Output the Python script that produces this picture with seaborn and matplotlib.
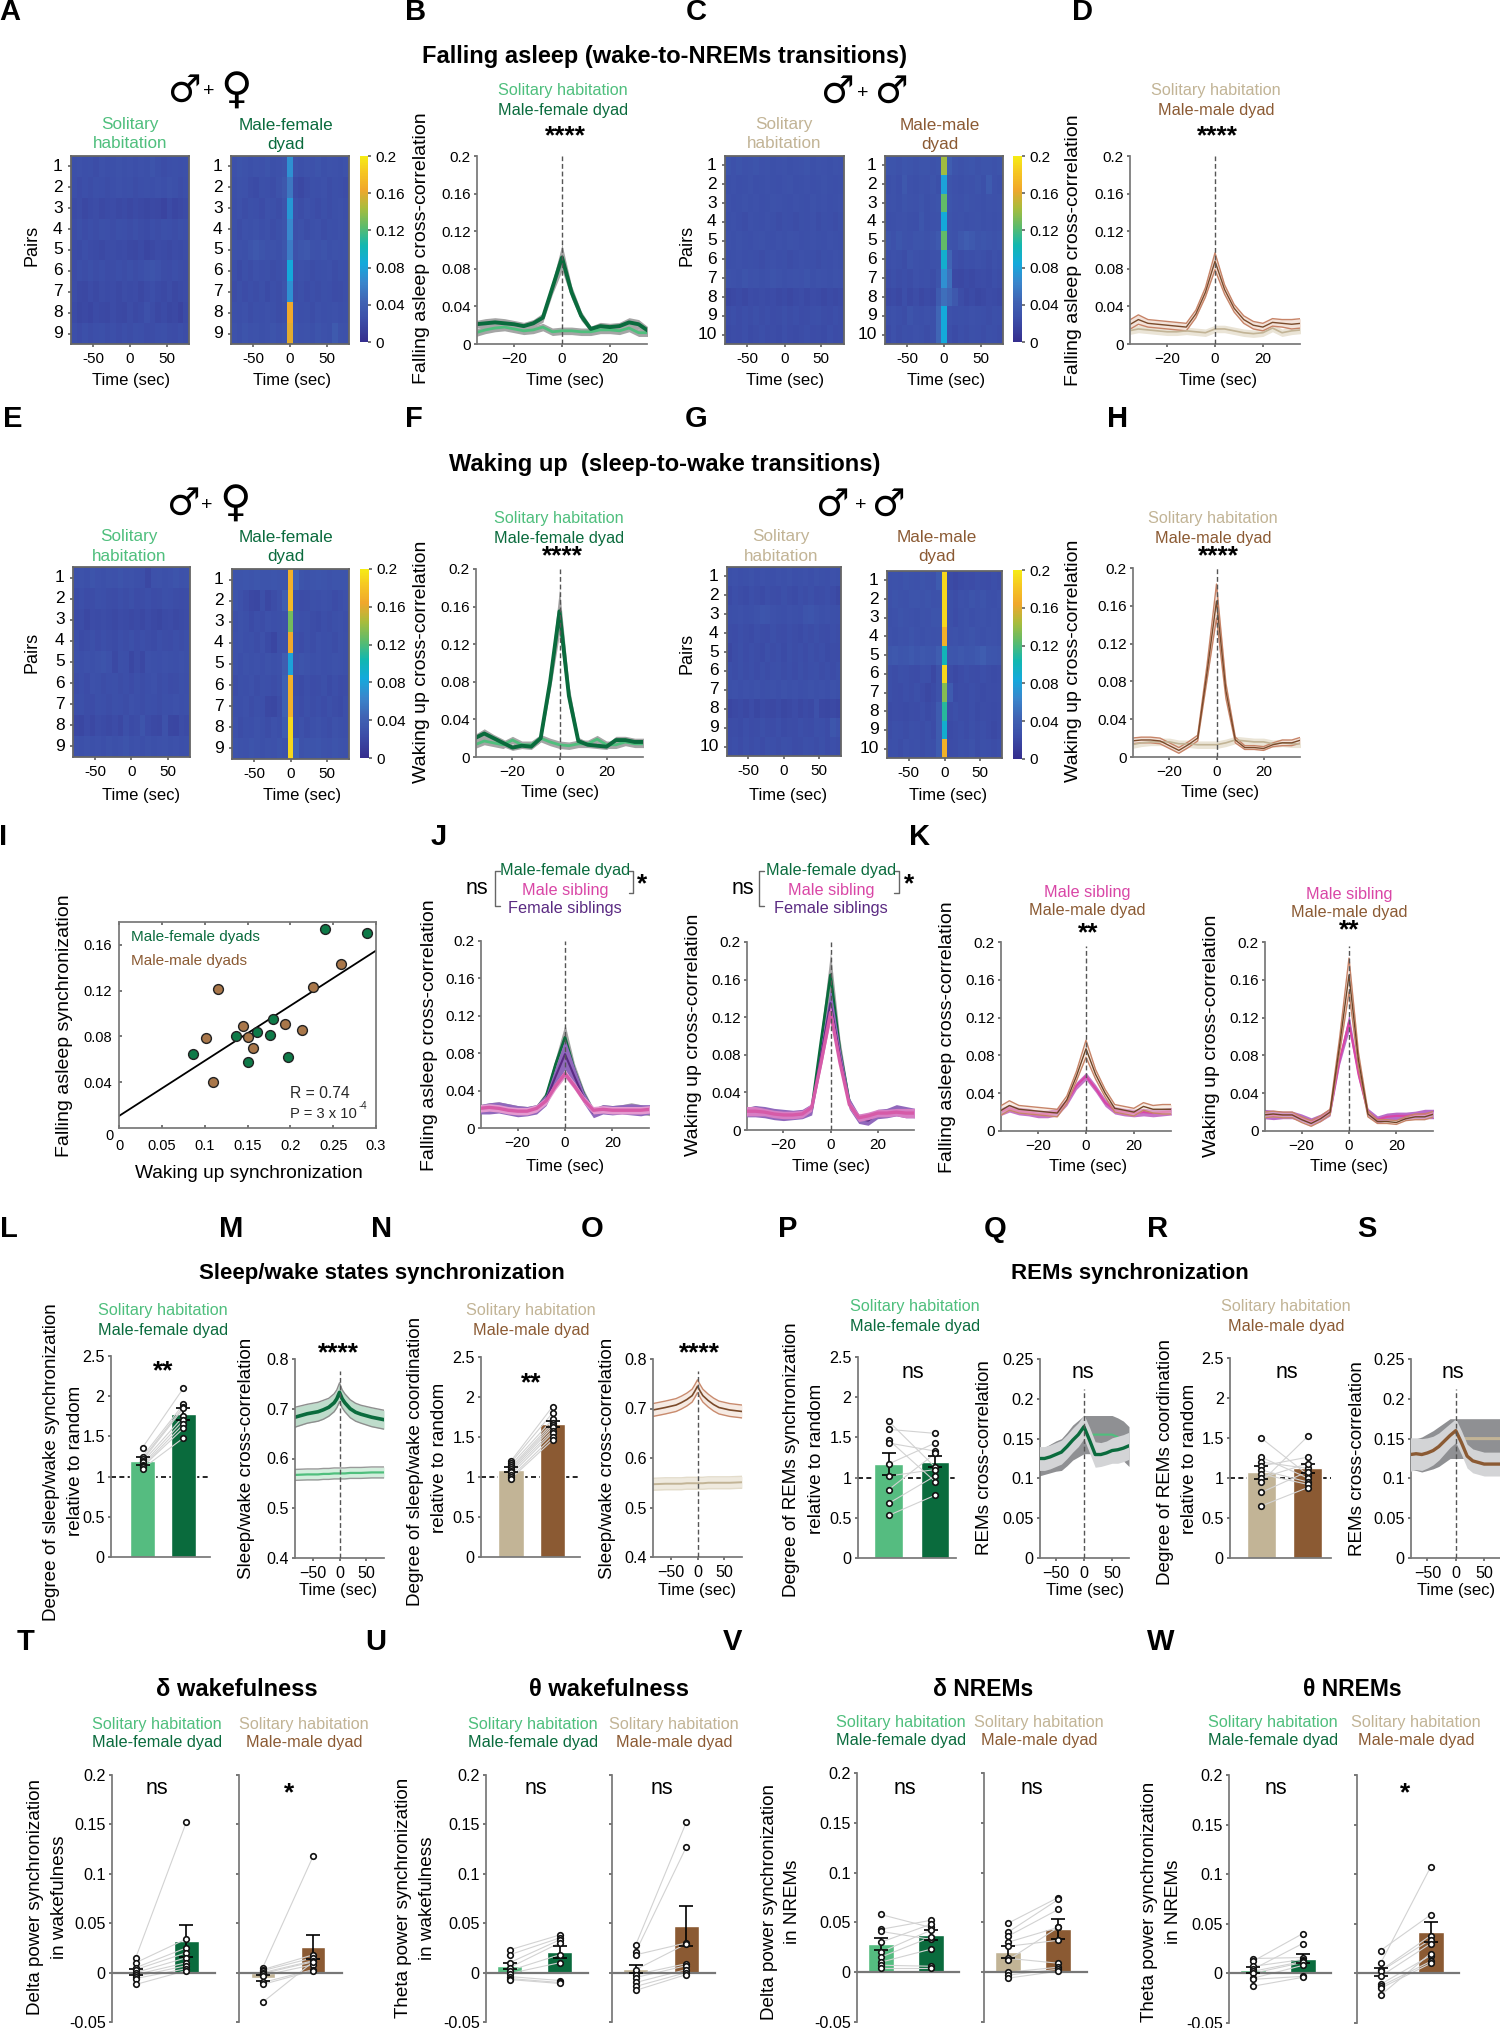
import numpy as np
import pandas as pd
import matplotlib.pyplot as plt
import seaborn as sns
from matplotlib.colors import LinearSegmentedColormap
from matplotlib.lines import Line2D

W, H = 1500, 2028

LG, DG, TAN, BR, MG, PU = "#4FBF7D", "#0A6B3D", "#C2B496", "#8B5A33", "#D946A6", "#5A2A82"

# heatmaps, values in 0.001 units, 21 time bins
map_A1 = [
    [26,27,25,26,24,27,25,26,28,26,27,25,27,26,29,26,24,25,26,25,26],
    [25,23,25,24,26,25,24,25,27,25,26,24,25,26,25,27,25,28,26,24,25],
    [22,24,20,22,24,21,22,23,21,22,20,22,21,19,21,20,17,22,18,21,22],
    [24,26,23,25,24,26,25,24,26,25,24,26,24,22,25,24,26,25,24,26,25],
    [23,22,25,23,22,21,23,24,22,23,21,20,22,18,21,23,22,21,23,22,24],
    [23,25,24,26,24,25,23,24,25,24,26,24,25,28,29,27,24,23,25,24,23],
    [24,21,20,23,21,24,22,23,21,24,22,23,20,23,25,22,21,24,20,22,23],
    [22,19,21,18,22,21,20,23,21,20,24,21,22,27,24,20,22,19,21,17,22],
    [25,23,26,24,25,26,24,25,23,25,24,26,25,23,24,25,26,24,23,25,24],
]
map_A2 = [
    [27,29,28,26,28,27,29,26,27,30,70,28,26,28,27,29,26,28,27,26,28],
    [26,28,27,24,22,26,25,24,28,33,55,22,20,24,26,25,27,24,26,25,24],
    [25,27,24,26,25,23,27,26,24,30,75,26,24,27,25,23,26,24,26,27,25],
    [26,24,27,26,28,25,27,24,26,30,65,25,27,24,26,27,24,26,25,27,26],
    [28,27,26,29,33,30,27,28,26,32,58,28,32,33,28,27,29,26,28,27,28],
    [25,22,26,24,27,25,26,24,25,28,85,25,27,26,24,25,26,27,24,26,25],
    [24,26,23,25,24,26,22,25,24,30,70,24,26,23,25,24,26,25,23,24,25],
    [26,25,27,24,26,25,27,26,24,26,165,27,25,26,24,27,25,26,27,25,26],
    [28,26,29,27,28,26,27,29,27,30,160,29,27,28,26,29,27,26,35,28,27],
]
map_C1 = [
    [29,27,30,27,28,29,27,28,26,27,28,26,27,28,29,26,28,27,26,28,27],
    [26,27,25,26,28,25,26,27,26,25,27,28,25,26,27,25,26,28,26,25,26],
    [27,25,26,28,26,27,25,26,28,27,26,25,27,26,25,28,26,27,25,26,27],
    [26,27,25,24,27,26,25,27,26,24,26,25,24,26,25,27,24,26,25,24,26],
    [27,26,28,26,25,27,28,26,25,27,26,28,27,25,26,27,26,25,27,26,25],
    [25,26,27,25,26,25,24,26,27,25,26,24,25,27,26,25,24,26,25,27,26],
    [28,27,26,29,27,28,26,27,29,28,26,27,28,27,29,26,28,27,26,28,27],
    [19,21,22,20,23,22,24,22,23,21,22,20,22,24,21,23,22,20,22,21,22],
    [24,25,23,25,24,26,24,25,23,24,26,24,25,23,24,25,26,24,23,25,24],
    [22,24,23,25,22,24,25,23,24,22,25,23,22,24,25,23,24,22,25,23,24],
]
map_C2 = [
    [29,30,28,31,29,28,30,29,28,30,142,38,30,28,29,31,28,30,29,28,29],
    [26,28,25,33,27,26,28,27,29,26,80,30,27,26,28,27,30,26,36,27,26],
    [27,28,26,29,28,27,29,26,28,29,125,31,28,27,29,28,27,26,28,27,28],
    [25,26,27,28,26,25,32,26,27,28,85,29,27,28,26,27,28,26,27,26,27],
    [29,27,32,28,27,30,29,28,30,34,125,29,28,33,38,34,30,32,30,28,29],
    [25,27,26,24,30,27,26,25,27,28,90,44,25,24,26,25,27,26,24,27,25],
    [24,26,24,25,24,27,25,26,24,30,70,50,21,20,22,21,23,24,22,25,24],
    [21,22,20,25,21,24,20,22,21,36,50,44,33,24,20,22,19,21,23,22,21],
    [25,27,25,24,30,26,25,27,26,45,85,27,25,26,25,27,26,25,24,26,25],
    [23,27,24,26,25,27,26,24,26,45,85,25,22,25,24,26,25,24,26,25,24],
]
map_E1 = [
    [27,28,26,29,27,26,28,27,29,27,28,26,25,20,27,28,26,27,29,27,28],
    [24,25,23,24,26,25,24,23,25,24,26,23,24,25,23,24,26,25,24,23,24],
    [23,24,20,23,22,24,22,21,23,22,21,22,20,23,21,19,22,23,21,22,23],
    [25,22,24,26,23,25,24,22,25,24,26,23,25,24,22,25,24,23,25,24,25],
    [26,25,27,26,28,30,27,21,26,25,19,24,20,27,26,25,27,26,25,27,26],
    [24,25,23,27,26,24,25,26,24,25,23,26,24,25,27,24,25,23,24,26,25],
    [25,26,24,23,26,25,24,26,25,24,27,25,24,26,25,24,26,25,27,25,26],
    [20,19,23,20,24,22,21,23,20,26,22,24,30,23,21,20,28,19,18,24,22],
    [27,26,28,26,27,25,28,26,27,29,26,27,25,28,26,27,28,26,27,25,26],
]
map_E2 = [
    [30,29,31,30,32,29,30,31,29,30,170,42,30,28,29,31,30,28,29,30,29],
    [29,27,24,20,19,26,20,24,27,38,175,25,23,24,26,25,27,26,23,25,27],
    [26,28,26,22,25,24,27,25,26,28,130,27,25,26,24,22,25,24,26,27,25],
    [27,28,25,26,24,27,22,18,26,27,165,25,23,26,24,27,25,26,24,27,26],
    [27,25,28,26,27,25,28,26,27,38,80,27,29,28,26,27,25,26,28,27,26],
    [24,26,25,27,24,26,25,24,26,40,170,24,22,25,23,24,26,22,25,23,24],
    [26,25,27,24,26,25,20,19,24,40,170,25,23,26,24,25,23,26,24,22,25],
    [27,24,26,25,28,26,24,27,25,36,190,25,27,24,26,28,25,24,28,26,25],
    [29,28,27,29,28,26,28,27,29,28,190,42,28,30,29,31,28,27,29,28,27],
]
map_G1 = [
    [26,27,25,26,28,25,27,26,25,27,26,28,25,26,27,25,28,26,25,27,26],
    [22,25,24,22,25,24,22,25,24,23,26,24,22,25,24,26,23,24,25,23,20],
    [25,26,27,25,26,28,31,30,27,26,25,27,26,25,30,31,28,26,27,26,25],
    [24,23,25,24,22,25,24,23,26,24,23,25,24,22,25,24,26,24,23,25,24],
    [20,24,26,23,25,24,22,26,24,25,22,26,24,25,23,26,24,25,22,24,23],
    [25,24,26,24,25,23,26,24,25,26,24,25,23,26,24,25,26,24,25,23,25],
    [26,27,25,27,26,28,25,26,27,25,28,26,27,25,26,28,26,27,25,28,26],
    [18,21,22,20,23,19,22,21,20,22,19,21,23,20,22,21,27,20,19,21,18],
    [23,24,22,25,23,24,26,24,23,25,22,24,23,25,24,23,26,25,23,32,27],
    [24,25,23,26,24,25,23,26,25,24,26,25,23,24,26,25,24,26,23,25,24],
]
map_G2 = [
    [27,28,27,29,28,27,29,28,27,36,190,22,20,22,24,23,25,24,23,25,24],
    [27,29,28,27,29,30,28,29,27,28,190,26,24,27,26,29,27,29,26,25,27],
    [26,27,29,28,27,26,28,27,29,30,190,26,23,26,28,25,27,28,26,27,26],
    [27,26,28,27,29,27,26,28,27,28,170,27,28,26,28,29,27,26,28,27,26],
    [32,33,31,32,34,31,33,32,31,38,100,32,31,33,31,32,34,38,32,31,30],
    [25,24,26,25,24,23,26,25,20,28,190,24,21,23,25,24,23,25,24,22,23],
    [25,24,23,25,24,26,23,20,22,28,135,36,22,24,23,25,24,22,24,23,24],
    [22,24,23,22,24,23,25,22,24,36,110,24,26,24,23,25,22,24,23,22,23],
    [24,26,25,24,26,25,24,26,23,36,90,22,24,25,23,26,24,25,23,21,23],
    [25,26,24,27,25,26,24,26,25,36,170,23,24,26,25,28,24,26,25,24,25],
]

# cross-correlation time courses
lag = [-36,-32,-28,-24,-20,-16,-12,-8,-4,0,4,8,12,16,20,24,28,32,36]
sem_narrow = [.004,.005,.005,.005,.004,.004,.004,.005,.007,.014,.007,.005,.003,.004,.004,.004,.005,.005,.004]
sem_sharp = [.004,.005,.004,.004,.003,.003,.003,.004,.010,.024,.012,.004,.003,.003,.003,.004,.004,.004,.004]
sem_flat = [.004,.004,.004,.004,.004,.004,.004,.004,.004,.004,.004,.004,.004,.004,.004,.004,.004,.004,.004]
sem_thin = [.005,.005,.004,.004,.004,.004,.004,.004,.005,.009,.005,.004,.004,.004,.004,.004,.004,.005,.005]
sem_tall = [.003,.003,.003,.003,.003,.003,.003,.003,.008,.018,.008,.003,.002,.002,.002,.002,.003,.003,.003]
sem_purple = [.005,.006,.006,.006,.006,.005,.005,.006,.010,.016,.010,.006,.005,.005,.005,.005,.006,.006,.005]

B_dyad = [.021,.022,.023,.022,.021,.019,.022,.028,.060,.092,.055,.030,.016,.019,.018,.019,.023,.021,.014]
B_sol = [.012,.015,.017,.018,.016,.014,.015,.018,.013,.014,.014,.013,.013,.015,.015,.014,.017,.012,.012]
D_dyad = [.020,.026,.022,.021,.020,.019,.018,.032,.055,.088,.058,.038,.026,.020,.018,.023,.022,.021,.022]
D_sol = [.014,.016,.015,.014,.013,.013,.014,.013,.012,.016,.016,.014,.012,.011,.012,.017,.012,.014,.015]
F_dyad = [.020,.025,.020,.015,.010,.012,.011,.020,.080,.155,.065,.017,.013,.012,.011,.018,.018,.016,.016]
F_sol = [.013,.017,.015,.013,.018,.013,.013,.020,.016,.013,.012,.014,.014,.019,.013,.013,.016,.014,.014]
H_dyad = [.017,.018,.018,.017,.012,.007,.013,.020,.090,.165,.070,.018,.010,.010,.009,.013,.015,.015,.018]
H_sol = [.013,.015,.016,.016,.016,.014,.014,.013,.013,.013,.015,.018,.017,.016,.016,.014,.015,.014,.014]
J1_dyad = [.021,.022,.023,.021,.020,.019,.021,.034,.068,.097,.062,.036,.018,.021,.020,.021,.022,.020,.017]
J1_fem = [.020,.021,.022,.020,.018,.018,.020,.030,.055,.079,.055,.032,.016,.020,.019,.020,.020,.019,.020]
J1_male = [.021,.022,.021,.019,.018,.018,.021,.029,.045,.058,.045,.030,.019,.020,.019,.019,.019,.019,.020]
J2_dyad = [.019,.021,.019,.016,.016,.015,.016,.022,.095,.165,.085,.030,.012,.012,.017,.019,.020,.018,.017]
J2_fem = [.019,.020,.019,.017,.016,.016,.017,.022,.080,.135,.078,.028,.012,.010,.017,.018,.021,.019,.018]
J2_male = [.020,.020,.019,.017,.016,.016,.017,.024,.072,.125,.072,.027,.013,.015,.018,.018,.019,.018,.018]
K1_dyad = [.021,.027,.023,.022,.021,.020,.019,.033,.058,.087,.060,.040,.024,.022,.020,.026,.023,.023,.023]
K1_male = [.020,.024,.021,.020,.018,.018,.020,.031,.048,.058,.045,.030,.022,.020,.019,.020,.019,.020,.021]
K2_dyad = [.017,.018,.017,.017,.012,.008,.013,.020,.090,.165,.075,.018,.010,.010,.009,.013,.015,.015,.018]
K2_male = [.018,.017,.017,.017,.014,.010,.014,.020,.075,.115,.060,.020,.012,.015,.016,.016,.017,.018,.018]

t_long = [-83,-60,-40,-30,-20,-10,-5,0,5,10,20,30,40,60,83]
M_dyad = [.683,.690,.694,.698,.703,.712,.720,.733,.720,.712,.700,.693,.689,.683,.678]
M_dyad_sem = [.020,.019,.019,.019,.018,.018,.018,.019,.018,.018,.018,.018,.018,.019,.019]
M_sol = [.567,.568,.568,.569,.569,.570,.570,.570,.570,.570,.571,.571,.571,.572,.572]
M_sol_sem = [.011,.011,.011,.011,.011,.011,.011,.011,.011,.011,.011,.011,.011,.011,.011]
O_dyad = [.697,.702,.707,.712,.718,.726,.735,.745,.735,.726,.716,.708,.702,.697,.694]
O_dyad_sem = [.013,.013,.013,.013,.013,.013,.013,.013,.013,.013,.013,.013,.013,.013,.013]
O_sol = [.547,.548,.548,.548,.549,.549,.549,.549,.549,.549,.550,.550,.550,.550,.551]
O_sol_sem = [.012,.012,.012,.012,.012,.012,.012,.012,.012,.012,.012,.012,.012,.012,.012]

t_rem = [-80,-70,-60,-50,-40,-30,-20,-10,0,10,20,30,40,50,60,70,80]
Q_dyad = [.125,.125,.127,.130,.133,.140,.148,.155,.165,.148,.130,.130,.132,.135,.136,.138,.141]
Q_dyad_sem = [.015,.015,.015,.015,.015,.015,.015,.015,.015,.016,.016,.015,.015,.016,.017,.017,.017]
Q_sol = [.120,.122,.125,.128,.130,.137,.145,.150,.155,.155,.155,.155,.155,.155,.152,.147,.140]
Q_sol_sem = [.017,.017,.018,.019,.020,.021,.022,.023,.024,.024,.024,.024,.024,.024,.024,.025,.025]
S_dyad = [.130,.131,.130,.132,.135,.140,.147,.154,.160,.145,.128,.122,.120,.118,.118,.118,.118]
S_dyad_sem = [.021,.020,.020,.019,.018,.017,.016,.015,.015,.015,.015,.015,.015,.015,.015,.015,.015]
S_sol = [.130,.130,.130,.133,.136,.140,.145,.150,.150,.150,.150,.150,.150,.150,.150,.150,.150]
S_sol_sem = [.020,.020,.022,.023,.024,.025,.025,.025,.025,.025,.025,.025,.025,.025,.025,.025,.025]

# correlation panel
mf_x = [.086,.136,.151,.161,.176,.180,.197,.241,.290]
mf_y = [.0644,.080,.0577,.0836,.0813,.095,.062,.1736,.170]
mm_x = [.102,.110,.115,.145,.151,.156,.194,.214,.227,.259]
mm_y = [.0784,.040,.1215,.0889,.0792,.070,.0906,.0854,.123,.1436]
fit_x = [0,.3]
fit_y = [.0105,.155]

# bar panels: solitary points, dyad points, means, sems
L_sol = [1.36,1.25,1.22,1.20,1.18,1.15,1.13,1.12,1.10]
L_dyad = [2.10,1.90,1.87,1.85,1.75,1.70,1.65,1.60,1.48]
N_sol = [1.20,1.18,1.15,1.12,1.10,1.08,1.06,1.03,1.00,.98]
N_dyad = [1.88,1.80,1.72,1.68,1.65,1.62,1.58,1.55,1.50,1.46]
P_sol = [1.70,1.60,1.47,1.43,1.17,1.02,.85,.68,.53]
P_dyad = [1.13,1.55,.95,1.33,1.43,1.10,1.30,1.02,.78]
R_sol = [1.50,1.26,1.20,1.15,1.10,1.05,1.00,.95,.82,.65]
R_dyad = [1.04,1.00,1.12,1.26,.95,.92,1.18,1.52,1.08,.88]

T1_sol = [.015,.010,.005,.003,.000,-.002,-.004,-.006,-.012]
T1_dyad = [.152,.034,.025,.020,.015,.010,.007,.004,.002]
T2_sol = [.005,.003,.002,.000,-.001,-.003,-.010,-.012,-.030]
T2_dyad = [.118,.018,.015,.012,.011,.008,.003,.002,.011]
U1_sol = [.023,.018,.010,.005,.002,-.001,-.004,-.006,-.007]
U1_dyad = [.038,.035,.033,.030,.018,.010,-.008,-.010,-.011]
U2_sol = [.028,.021,.018,.003,-.002,-.005,-.010,-.014,-.018]
U2_dyad = [.152,.127,.030,.029,.009,.007,.003,.000,-.002]
V1_sol = [.058,.043,.041,.030,.020,.015,.010,.007,.004]
V1_dyad = [.045,.052,.033,.048,.042,.035,.023,.006,.004]
V2_sol = [.049,.040,.036,.030,.026,.014,.012,.000,-.003,-.006]
V2_dyad = [.075,.073,.063,.045,.032,.009,.045,.005,.003,.001]
W1_sol = [.015,.012,.007,.004,.002,.000,-.005,-.006,-.013]
W1_dyad = [.016,.040,.014,.030,.012,.011,.008,-.003,-.004]
W2_sol = [.023,.010,.003,.002,-.003,-.011,-.013,-.015,-.022]
W2_dyad = [.059,.107,.038,.034,.030,.018,.012,.010,.020]

sns.set_theme(style="ticks")
plt.rcParams["font.family"] = ["Liberation Sans", "DejaVu Sans"]
plt.rcParams["axes.edgecolor"] = "#777777"
plt.rcParams["xtick.color"] = "#666666"
plt.rcParams["ytick.color"] = "#666666"
plt.rcParams["xtick.labelcolor"] = "black"
plt.rcParams["ytick.labelcolor"] = "black"
plt.rcParams["xtick.labelsize"] = 11
plt.rcParams["ytick.labelsize"] = 11
plt.rcParams["xtick.major.size"] = 2.5
plt.rcParams["ytick.major.size"] = 2.5
plt.rcParams["xtick.major.pad"] = 3
plt.rcParams["ytick.major.pad"] = 2

parula = LinearSegmentedColormap.from_list("parula_print", [
    (0, "#352E8E"), (.12, "#3C4EA8"), (.22, "#4064B4"), (.32, "#3A86CC"), (.42, "#14A9DC"),
    (.52, "#12B7B0"), (.62, "#5CBB6C"), (.72, "#A8BC3C"), (.82, "#F0A72C"), (.92, "#F6C822"), (1, "#F6EC14")])

fig = plt.figure(figsize=(W / 100, H / 100), dpi=100)


def ax_px(l, t, r, b):
    return fig.add_axes([l / W, 1 - b / H, (r - l) / W, (b - t) / H])


def txt(x, y, s, color="black", size=11.7, rot=0, weight="normal", **kw):
    fig.text(x / W, 1 - y / H, s, color=color, fontsize=size, rotation=rot, fontweight=weight,
             ha="center", va="center", **kw)


def ylab(x, y, s, size=14):
    txt(x, y, s, size=size, rot=90)


def fig_line(xs, ys):
    fig.add_artist(Line2D([v / W for v in xs], [1 - v / H for v in ys], color="#666666", lw=1))


def heat(box, rows, cax=None):
    ax = ax_px(*box)
    labels = [str(i + 1) for i in range(len(rows))]
    sns.heatmap(np.array(rows) / 1000, vmin=0, vmax=.2, cmap=parula, ax=ax, cbar=cax is not None,
                cbar_ax=cax, xticklabels=False, yticklabels=labels)
    ax.set_xticks([3.95, 10.5, 17.0])
    ax.set_xticklabels(["-50", "0", "50"], rotation=0)
    ax.tick_params(axis="y", rotation=0, labelsize=12.5, length=2, pad=4)
    for sp in ax.spines.values():
        sp.set_visible(True)
        sp.set_color("#666666")
        sp.set_linewidth(1.3)
    if cax is not None:
        cax.set_yticks([0, .04, .08, .12, .16, .2])
        cax.set_yticklabels(["0", "0.04", "0.08", "0.12", "0.16", "0.2"])
        cax.tick_params(length=2, pad=3)
    return ax


def clean(ax):
    sns.despine(ax=ax)
    ax.patch.set_alpha(0)


def trace(ax, x, y, sem, line, band, lw=2.5, edge=None, alpha=1, z=2):
    y, sem = np.array(y), np.array(sem)
    ax.fill_between(x, y - sem, y + sem, color=band, alpha=alpha, lw=0, zorder=z)
    if edge:
        sns.lineplot(x=x, y=y - sem, color=edge, lw=1, ax=ax, zorder=z + .1)
        sns.lineplot(x=x, y=y + sem, color=edge, lw=1, ax=ax, zorder=z + .1)
    sns.lineplot(x=x, y=y, color=line, lw=lw, ax=ax, zorder=z + .2)


def xcorr_ax(box, ylim=(0, .2), yt=(0, .04, .08, .12, .16, .2), xlim=(-35.5, 35.5), xt=(-20, 0, 20), tsize=11, vtop=1):
    ax = ax_px(*box)
    ax.set_xlim(*xlim)
    ax.set_ylim(*ylim)
    ax.set_xticks(list(xt))
    ax.set_yticks(list(yt))
    ax.set_yticklabels([f"{v:g}" for v in yt])
    ax.tick_params(labelsize=tsize)
    ax.axvline(0, ymax=vtop, color="#555555", lw=1, ls=(0, (3.5, 2)), zorder=5)
    clean(ax)
    return ax


def pair_bars(box, sol, dyad, means, sems, colors, xlim, ylim, yt, width, ref=None, labels=True, zero_axis=False):
    ax = ax_px(*box)
    df = pd.DataFrame({"group": ["sol", "dyad"], "val": means})
    if ref is not None:
        ax.axhline(ref, color="black", lw=1.2, ls=(0, (3, 2)), zorder=0)
    sns.barplot(data=df, x="group", y="val", hue="group", palette=colors, width=width, saturation=1,
                legend=False, ax=ax, zorder=1)
    for a, b in zip(sol, dyad):
        ax.plot([0, 1], [a, b], color="#D2D2D2", lw=.8, zorder=2)
    ax.errorbar([0, 1], means, yerr=sems, fmt="none", ecolor="black", elinewidth=1.2, capsize=5, capthick=1.2, zorder=3)
    sns.scatterplot(x=[0] * len(sol), y=sol, s=16, facecolor="white", edgecolor="#111111", linewidth=1.2, ax=ax, zorder=4)
    sns.scatterplot(x=[1] * len(dyad), y=dyad, s=16, facecolor="white", edgecolor="#111111", linewidth=1.2, ax=ax, zorder=4)
    ax.set_xlim(*xlim)
    ax.set_ylim(*ylim)
    ax.set_xticks([])
    ax.set_yticks(list(yt))
    ax.set_yticklabels([f"{v:g}" for v in yt] if labels else [])
    ax.tick_params(labelsize=11.6)
    ax.set_xlabel("")
    ax.set_ylabel("")
    clean(ax)
    if zero_axis:
        ax.spines["bottom"].set_position(("data", 0))
        ax.spines["bottom"].set_linewidth(1.6)
    return ax


# heatmap rows (A, C, E, G)
cbA = ax_px(360, 156, 368, 342)
heat((71, 156, 189, 344), map_A1)
heat((231, 156, 349, 344), map_A2, cbA)
cbC = ax_px(1013, 156, 1022, 342)
heat((725, 156, 844, 344), map_C1)
heat((885, 156, 1003, 344), map_C2, cbC)
cbE = ax_px(360, 569, 369, 758)
heat((73, 567, 190, 757), map_E1)
heat((232, 569, 349, 759), map_E2, cbE)
cbG = ax_px(1013, 570, 1022, 759)
heat((727, 567, 841, 756), map_G1)
heat((887, 571, 1002, 758), map_G2, cbG)

# B, D, F, H
ax = xcorr_ax((477, 156, 647, 344))
trace(ax, lag, B_sol, sem_flat, LG, "#A5A5A5", 2)
trace(ax, lag, B_dyad, sem_narrow, DG, "#A5A5A5", 2.8)
ax = xcorr_ax((1130, 156, 1300, 344))
trace(ax, lag, D_sol, sem_flat, TAN, "#EAE4D6", 1.2)
trace(ax, lag, D_dyad, sem_thin, "#7A4A2A", "#F3E3DA", 1, edge="#C78468")
ax = xcorr_ax((476, 569, 643, 757))
trace(ax, lag, F_sol, sem_flat, LG, "#A5A5A5", 2)
trace(ax, lag, F_dyad, sem_sharp, DG, "#A5A5A5", 2.8)
ax = xcorr_ax((1133, 568, 1300, 757))
trace(ax, lag, H_sol, sem_flat, TAN, "#EAE4D6", 1.2)
trace(ax, lag, H_dyad, sem_tall, "#7A4A2A", "#F3E3DA", 1, edge="#C78468")

# I
ax = ax_px(119, 922, 376, 1128)
sns.lineplot(x=fit_x, y=fit_y, color="black", lw=1.3, ax=ax)
sns.scatterplot(x=mm_x, y=mm_y, color="#A9774A", edgecolor="#222222", s=50, linewidth=1, ax=ax, zorder=3)
sns.scatterplot(x=mf_x, y=mf_y, color="#0E7A48", edgecolor="#222222", s=50, linewidth=1, ax=ax, zorder=3)
ax.set_xlim(0, .3)
ax.set_ylim(0, .18)
ax.set_xticks([0, .05, .1, .15, .2, .25, .3])
ax.set_xticklabels(["0", "0.05", "0.1", "0.15", "0.2", "0.25", "0.3"])
ax.set_yticks([.04, .08, .12, .16])
ax.set_yticklabels(["0.04", "0.08", "0.12", "0.16"])
ax.tick_params(top=True, right=False, direction="in", pad=5)
ax.tick_params(axis="x", pad=8, labelsize=10.5)
ax.tick_params(axis="y", labelsize=10.5)
txt(109, 1136, "0", size=10.5)

# J, K
ax = xcorr_ax((481, 941, 649, 1128))
trace(ax, lag, J1_dyad, sem_narrow, DG, "#A5A5A5", 2, z=2)
trace(ax, lag, J1_fem, sem_purple, PU, "#9068BC", 1.5, z=3)
trace(ax, lag, J1_male, sem_flat, "#D65BA8", "#E49AD0", 2.4, z=4)
ax = xcorr_ax((747, 942, 914, 1130))
trace(ax, lag, J2_dyad, sem_sharp, DG, "#A5A5A5", 2, z=2)
trace(ax, lag, J2_fem, sem_purple, PU, "#9068BC", 1.5, z=3)
trace(ax, lag, J2_male, sem_thin, "#D65BA8", "#D77FC4", 2.4, z=4)
ax = xcorr_ax((1001, 942, 1171, 1131), vtop=.98)
trace(ax, lag, K1_male, sem_flat, MG, "#C673C6", 1.5, z=2)
trace(ax, lag, K1_dyad, sem_thin, "#6E4425", "#F1D9C8", 1, edge="#C78468", alpha=.45, z=3)
ax = xcorr_ax((1265, 942, 1433, 1131), vtop=.98)
trace(ax, lag, K2_male, sem_thin, MG, "#B86CC8", 1.5, z=2)
trace(ax, lag, K2_dyad, sem_tall, "#6E4425", "#F1D9C8", 1, edge="#C78468", alpha=.45, z=3)

# L-S
yt_ratio = (0, .5, 1, 1.5, 2, 2.5)
pair_bars((111, 1356, 210, 1557), L_sol, L_dyad, [1.20, 1.78], [.05, .07], ["#55BC80", DG], (-.77, 1.65), (0, 2.5), yt_ratio, .6, ref=1)
pair_bars((481, 1357, 580, 1557), N_sol, N_dyad, [1.09, 1.66], [.03, .04], [TAN, BR], (-.72, 1.66), (0, 2.5), yt_ratio, .62, ref=1)
pair_bars((858, 1357, 956, 1558), P_sol, P_dyad, [1.17, 1.20], [.14, .07], ["#55BC80", DG], (-.66, 1.45), (0, 2.5), yt_ratio, .62, ref=1)
pair_bars((1230, 1358, 1331, 1558), R_sol, R_dyad, [1.07, 1.12], [.08, .06], [TAN, BR], (-.67, 1.5), (0, 2.5), yt_ratio, .62, ref=1)

yt_state = (.4, .5, .6, .7, .8)
ax = xcorr_ax((295, 1359, 384, 1558), (.4, .8), yt_state, (-83, 83), (-50, 0, 50), 11.6, vtop=.94)
trace(ax, t_long, M_sol, M_sol_sem, LG, "#D3EEDD", 1.6, edge="#999999")
trace(ax, t_long, M_dyad, M_dyad_sem, DG, "#BEDCCB", 2.6, edge="#8E8E8E")
ax = xcorr_ax((653, 1359, 742, 1557), (.4, .8), yt_state, (-83, 83), (-50, 0, 50), 11.6, vtop=.94)
trace(ax, t_long, O_sol, O_sol_sem, TAN, "#EFEADF", 1.4, edge="#E3DCCB")
trace(ax, t_long, O_dyad, O_dyad_sem, "#7A4A2A", "#F6EBE4", 1.2, edge="#C98B6E")

yt_rem = (0, .05, .1, .15, .2, .25)
ax = xcorr_ax((1040, 1359, 1129, 1558), (0, .25), yt_rem, (-78, 80), (-50, 0, 50), 11.6, vtop=.85)
trace(ax, t_rem, Q_sol, Q_sol_sem, LG, "#8F9093", 1.5)
trace(ax, t_rem, Q_dyad, Q_dyad_sem, DG, "#D3D4D6", 2.4, z=3)
ax = xcorr_ax((1411, 1359, 1500, 1558), (0, .25), yt_rem, (-79, 78), (-50, 0, 50), 11.6, vtop=.85)
trace(ax, t_rem, S_sol, S_sol_sem, TAN, "#8F9093", 2.2)
trace(ax, t_rem, S_dyad, S_dyad_sem, BR, "#D3D4D6", 2.4, z=3)

# T-W
yt_pow = (-.05, 0, .05, .1, .15, .2)
xl5 = (-.47, 1.57)
ylim5 = (-.05, .2)
greens, browns = ["#55BC80", DG], [TAN, BR]
pair_bars((112, 1775, 215, 2022), T1_sol, T1_dyad, [.001, .032], [.003, .016], greens, xl5, ylim5, yt_pow, .5, zero_axis=True)
pair_bars((239, 1775, 342, 2022), T2_sol, T2_dyad, [-.005, .026], [.003, .012], browns, xl5, ylim5, yt_pow, .47, labels=False, zero_axis=True)
pair_bars((486, 1775, 588, 2022), U1_sol, U1_dyad, [.007, .021], [.003, .006], greens, xl5, ylim5, yt_pow, .5, zero_axis=True)
pair_bars((612, 1775, 715, 2022), U2_sol, U2_dyad, [.004, .047], [.004, .020], browns, xl5, ylim5, yt_pow, .5, labels=False, zero_axis=True)
pair_bars((857, 1773, 959, 2022), V1_sol, V1_dyad, [.028, .037], [.006, .005], greens, xl5, ylim5, yt_pow, .52, zero_axis=True)
pair_bars((984, 1773, 1087, 2022), V2_sol, V2_dyad, [.020, .043], [.006, .010], browns, xl5, ylim5, yt_pow, .52, labels=False, zero_axis=True)
pair_bars((1229, 1775, 1331, 2023), W1_sol, W1_dyad, [.003, .015], [.003, .005], greens, xl5, ylim5, yt_pow, .52, zero_axis=True)
pair_bars((1357, 1775, 1459, 2023), W2_sol, W2_dyad, [.001, .042], [.004, .010], browns, xl5, ylim5, yt_pow, .52, labels=False, zero_axis=True)

# panel letters
letters = [("A", 10, 12), ("B", 416, 12), ("C", 696, 12), ("D", 1082, 12),
           ("E", 13, 419), ("F", 414, 419), ("G", 696, 419), ("H", 1118, 419),
           ("I", 3, 837), ("J", 439, 837), ("K", 920, 837),
           ("L", 9, 1229), ("M", 231, 1229), ("N", 382, 1229), ("O", 592, 1229),
           ("P", 788, 1229), ("Q", 995, 1229), ("R", 1158, 1229), ("S", 1367, 1229),
           ("T", 26, 1642), ("U", 376, 1642), ("V", 732, 1642), ("W", 1161, 1642)]
for s, x, y in letters:
    txt(x, y, s, size=21, weight="bold")

# titles
for s, x, y, size in [("Falling asleep (wake-to-NREMs transitions)", 665, 57, 17),
                      ("Waking up  (sleep-to-wake transitions)", 665, 465, 17),
                      ("Sleep/wake states synchronization", 382, 1274, 16),
                      ("REMs synchronization", 1130, 1274, 16),
                      ("δ wakefulness", 237, 1690, 17), ("θ wakefulness", 609, 1690, 17),
                      ("δ NREMs", 983, 1690, 16.5), ("θ NREMs", 1352, 1690, 16.5)]:
    txt(x, y, s, size=size, weight="bold")

# sex symbols
sym = ["DejaVu Sans"]
for xs, y, second in [((184, 209, 236), 92, "♀"), ((183, 207, 235), 505, "♀"),
                      ((837, 863, 891), 93, "♂"), ((832, 861, 888), 506, "♂")]:
    txt(xs[0], y, "♂", size=27, family=sym)
    txt(xs[1], y, "+", size=14)
    txt(xs[2], y, second, size=27 if second == "♂" else 31, family=sym)

# heatmap headers
for x1, x2, y1, y2, c1, c2, s2 in [(130, 286, 125, 144, LG, DG, "Male-female\ndyad"),
                                   (784, 940, 125, 144, TAN, BR, "Male-male\ndyad"),
                                   (129, 286, 537, 556, LG, DG, "Male-female\ndyad"),
                                   (781, 937, 537, 556, TAN, BR, "Male-male\ndyad")]:
    txt(x1, y1, "Solitary", c1, 12.3)
    txt(x1, y2, "habitation", c1, 12.3)
    a, b = s2.split("\n")
    txt(x2, y1, a, c2, 12.3)
    txt(x2, y2, b, c2, 12.3)

# two line legends
for x, y1, y2, c1, c2, s1, s2 in [
    (563, 91, 111, LG, DG, "Solitary habitation", "Male-female dyad"),
    (1216, 91, 111, TAN, BR, "Solitary habitation", "Male-male dyad"),
    (559, 518, 538, LG, DG, "Solitary habitation", "Male-female dyad"),
    (1213, 518, 538, TAN, BR, "Solitary habitation", "Male-male dyad"),
    (1087, 893, 910, MG, BR, "Male sibling", "Male-male dyad"),
    (1349, 895, 912, MG, BR, "Male sibling", "Male-male dyad"),
    (163, 1310, 1330, LG, DG, "Solitary habitation", "Male-female dyad"),
    (531, 1310, 1330, TAN, BR, "Solitary habitation", "Male-male dyad"),
    (915, 1307, 1327, LG, DG, "Solitary habitation", "Male-female dyad"),
    (1286, 1307, 1327, TAN, BR, "Solitary habitation", "Male-male dyad"),
    (157, 1724, 1743, LG, DG, "Solitary habitation", "Male-female dyad"),
    (304, 1724, 1743, TAN, BR, "Solitary habitation", "Male-male dyad"),
    (533, 1724, 1743, LG, DG, "Solitary habitation", "Male-female dyad"),
    (674, 1724, 1743, TAN, BR, "Solitary habitation", "Male-male dyad"),
    (901, 1722, 1741, LG, DG, "Solitary habitation", "Male-female dyad"),
    (1039, 1722, 1741, TAN, BR, "Solitary habitation", "Male-male dyad"),
    (1273, 1722, 1741, LG, DG, "Solitary habitation", "Male-female dyad"),
    (1416, 1722, 1741, TAN, BR, "Solitary habitation", "Male-male dyad")]:
    txt(x, y1, s1, c1)
    txt(x, y2, s2, c2)

# J legends and brackets
for x, ys, nsx, starx, bl, br in [(565, (871, 890, 908), 477, 642, (500, 495), (629, 633)),
                                  (831, (871, 890, 909), 743, 909, (764, 759), (894, 899))]:
    txt(x, ys[0], "Male-female dyad", DG)
    txt(x, ys[1], "Male sibling", MG)
    txt(x, ys[2], "Female siblings", PU)
    txt(nsx, 889, "ns", size=15.5)
    txt(starx, 884, "*", size=19, weight="bold")
    fig_line([bl[0], bl[1], bl[1], bl[0]], [871, 871, 906, 906])
    fig_line([br[0], br[1], br[1], br[0]], [871, 871, 893, 893])

# I annotations
txt(65, 1026, "Falling asleep synchronization", rot=90, size=14)
txt(249, 1173, "Waking up synchronization", size=13.8)
fig.text(131 / W, 1 - 937 / H, "Male-female dyads", color=DG, fontsize=11, va="center")
fig.text(131 / W, 1 - 961 / H, "Male-male dyads", color=BR, fontsize=11, va="center")
fig.text(290 / W, 1 - 1093 / H, "R = 0.74", fontsize=11.3, va="center")
fig.text(290 / W, 1 - 1114 / H, "P = 3 x 10", fontsize=10.6, va="center")
fig.text(359 / W, 1 - 1106 / H, "-4", fontsize=7, va="center")

# y labels
for x, y, s in [(422, 248, "Falling asleep cross-correlation"), (1073, 250, "Falling asleep cross-correlation"),
                (422, 662, "Waking up cross-correlation"), (1074, 661, "Waking up cross-correlation"),
                (430, 1035, "Falling asleep cross-correlation"), (694, 1035, "Waking up cross-correlation"),
                (947, 1037, "Falling asleep cross-correlation"), (1212, 1036, "Waking up cross-correlation"),
                (51, 1462, "Degree of sleep/wake synchronization"), (75, 1461, "relative to random"),
                (247, 1458, "Sleep/wake cross-correlation"),
                (416, 1461, "Degree of sleep/wake coordination"), (439, 1458, "relative to random"),
                (608, 1458, "Sleep/wake cross-correlation"),
                (792, 1460, "Degree of REMs synchronization"), (816, 1459, "relative to random"),
                (985, 1458, "REMs cross-correlation"),
                (1166, 1462, "Degree of REMs coordination"), (1189, 1459, "relative to random"),
                (1358, 1459, "REMs cross-correlation"),
                (36, 1897, "Delta power synchronization"), (59, 1897, "in wakefulness"),
                (404, 1898, "Theta power synchronization"), (428, 1898, "in wakefulness"),
                (769, 1902, "Delta power synchronization"), (793, 1902, "in NREMs"),
                (1150, 1902, "Theta power synchronization"), (1173, 1902, "in NREMs")]:
    ylab(x, y, s, 14 if y < 1200 else 13.6)
for x, y in [(32, 245), (687, 245), (32, 652), (687, 653)]:
    ylab(x, y, "Pairs", 13)

# time labels
for x, y in [(131, 380), (292, 380), (565, 380), (785, 380), (946, 380), (1218, 381),
             (141, 795), (302, 795), (560, 793), (788, 795), (948, 795), (1220, 793),
             (565, 1166), (831, 1167), (1088, 1167), (1349, 1167),
             (338, 1591), (697, 1590), (1085, 1590), (1456, 1590)]:
    txt(x, y, "Time (sec)", size=12)

# significance marks
for x, y in [(565, 136), (1217, 136), (562, 556), (1218, 556), (338, 1353), (699, 1353)]:
    txt(x, y, "****", size=19, weight="bold")
for x, y in [(1088, 933), (1349, 930), (163, 1371), (531, 1383)]:
    txt(x, y, "**", size=19, weight="bold")
for x, y in [(913, 1373), (1083, 1373), (1287, 1373), (1453, 1373),
             (157, 1789), (536, 1789), (662, 1789), (905, 1789), (1032, 1789), (1276, 1789)]:
    txt(x, y, "ns", size=15.5)
for x in (289, 1405):
    txt(x, 1793, "*", size=19, weight="bold")

fig.savefig("out.png", dpi=100)
